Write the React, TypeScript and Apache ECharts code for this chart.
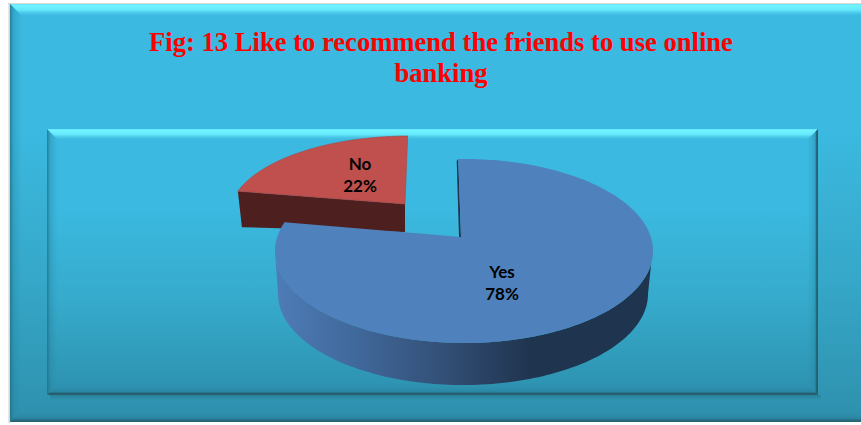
import React, { useEffect, useRef } from "react";
import * as echarts from "echarts";

const categories = ["Yes", "No"];
const shares = [78, 22];
const titleLines = ["Fig: 13 Like to recommend the friends to use online", "banking"];

const W = 861;
const H = 425;

type Ring = { cx: number; cy: number; rx: number; ry: number };

// Projection of each slice: the hub, the upper rim and the lower rim of the disc.
const YES_GEOM = {
  hub: [461, 237],
  top: { cx: 464, cy: 251, rx: 189, ry: 92 } as Ring,
  bottom: { cx: 463, cy: 294, rx: 185, ry: 91 } as Ring,
  label: [502, 282],
};
const NO_GEOM = {
  hub: [405, 204],
  top: { cx: 409, cy: 216, rx: 180, ry: 80 } as Ring,
  label: [360, 174],
};

const START_ANGLE = -1;

const toRad = (d: number) => (d * Math.PI) / 180;

// Casts a ray from the hub at a clockwise pie angle and returns the rim parameter it reaches.
function rimParam(hub: number[], ring: Ring, pieDeg: number) {
  const dx = Math.sin(toRad(pieDeg)) * ring.rx;
  const dy = -Math.cos(toRad(pieDeg)) * ring.ry;
  const ox = (hub[0] - ring.cx) / ring.rx;
  const oy = (hub[1] - ring.cy) / ring.ry;
  const ux = dx / ring.rx;
  const uy = dy / ring.ry;
  const a = ux * ux + uy * uy;
  const b = 2 * (ox * ux + oy * uy);
  const c = ox * ox + oy * oy - 1;
  const t = (-b + Math.sqrt(b * b - 4 * a * c)) / (2 * a);
  return Math.atan2(oy + t * uy, ox + t * ux);
}

function rimPoints(ring: Ring, from: number, to: number, steps = 120) {
  const pts: number[][] = [];
  for (let i = 0; i <= steps; i++) {
    const th = from + ((to - from) * i) / steps;
    pts.push([ring.cx + ring.rx * Math.cos(th), ring.cy + ring.ry * Math.sin(th)]);
  }
  return pts;
}

function grad(x0: number, y0: number, x1: number, y1: number, stops: [number, string][]) {
  return new echarts.graphic.LinearGradient(
    x0, y0, x1, y1,
    stops.map(([offset, color]) => ({ offset, color }))
  );
}

// One raised panel: body, then four mitred bevel bands, the shadow edges on top.
function panel(x0: number, y0: number, x1: number, y1: number, b: number, bodyTop: string, bodyMid: string, bodyBottom: string, edgeDark: string) {
  const poly = (points: number[][], fill: any) => ({
    type: "polygon",
    silent: true,
    shape: { points },
    style: { fill },
  });
  return [
    {
      type: "rect",
      silent: true,
      shape: { x: x0, y: y0, width: x1 - x0, height: y1 - y0 },
      style: { fill: grad(0, 0, 0, 1, [[0, bodyTop], [0.3, bodyTop], [0.65, bodyMid], [1, bodyBottom]]) },
    },
    poly(
      [[x0, y0], [x1, y0], [x1 - b, y0 + b], [x0 + b, y0 + b]],
      grad(0, 0, 0, 1, [[0, "rgba(100,230,250,1)"], [0.15, "rgba(112,244,255,1)"], [0.5, "rgba(108,240,255,0.85)"], [1, "rgba(80,200,235,0)"]])
    ),
    poly(
      [[x0, y0], [x0 + b, y0 + b], [x0 + b, y1 - b], [x0, y1]],
      grad(0, 0, 1, 0, [[0, "rgba(30,105,130,0.75)"], [0.3, "rgba(30,125,150,0.3)"], [1, "rgba(40,140,170,0)"]])
    ),
    poly(
      [[x1, y0], [x1 - b, y0 + b], [x1 - b, y1 - b], [x1, y1]],
      grad(0, 0, 1, 0, [[0, "rgba(40,140,170,0)"], [0.72, "rgba(30,120,145,0.3)"], [0.88, edgeDark], [1, edgeDark]])
    ),
    poly(
      [[x0, y1], [x0 + b, y1 - b], [x1 - b, y1 - b], [x1, y1]],
      grad(0, 0, 0, 1, [[0, "rgba(40,140,170,0)"], [0.68, "rgba(35,115,140,0.35)"], [0.86, edgeDark], [1, edgeDark]])
    ),
  ];
}

function renderSlice(params: any, api: any) {
  const i = params.dataIndex;
  const total = shares.reduce((s, v) => s + v, 0);
  const before = shares.slice(0, i).reduce((s, v) => s + v, 0);
  const a0 = START_ANGLE + (before / total) * 360;
  const a1 = a0 + (api.value(0) / total) * 360;
  const text = `${categories[i]}\n${Math.round((api.value(0) / total) * 100)}%`;
  const label = (xy: number[]) => ({
    type: "text",
    z2: 50,
    style: {
      x: xy[0], y: xy[1], text,
      fill: "#000", align: "center", verticalAlign: "middle",
      font: "bold 17px Lato, 'Open Sans', sans-serif",
      lineHeight: 22,
    },
  });

  if (i === 0) {
    const g = YES_GEOM;
    const th0 = rimParam(g.hub, g.top, a0);
    let th1 = rimParam(g.hub, g.top, a1);
    const from = th0;
    while (th1 < from) th1 += Math.PI * 2;
    const face = [g.hub, ...rimPoints(g.top, from, th1, 200)];
    const wallTop = rimPoints(g.top, toRad(8), toRad(176));
    const wallBottom = rimPoints(g.bottom, toRad(180), toRad(0));
    const rimStart = face[1];
    return {
      type: "group",
      children: [
        {
          type: "polygon", z2: 20,
          shape: { points: [...wallTop, ...wallBottom] },
          style: {
            fill: grad(0, 0, 1, 0, [
              [0, "#4e7cb6"], [0.2, "#416a9d"], [0.45, "#334f76"], [0.68, "#1f344e"], [1, "#1f344e"],
            ]),
          },
        },
        {
          type: "polygon", z2: 21,
          shape: { points: [[rimStart[0] - 1.5, rimStart[1] + 2], rimStart, g.hub, [g.hub[0] - 2, g.hub[1]]] },
          style: { fill: "#1f344e" },
        },
        {
          type: "polygon", z2: 22,
          shape: { points: face },
          style: { fill: "#4f81bd" },
        },
        label(g.label),
      ],
    };
  }

  const g = NO_GEOM;
  const th0 = rimParam(g.hub, g.top, a0);
  let th1 = rimParam(g.hub, g.top, a1 + 2);
  while (th1 < th0) th1 += Math.PI * 2;
  const arc = rimPoints(g.top, th0, th1);
  const left = arc[0];
  return {
    type: "group",
    children: [
      {
        type: "polygon", z2: 10,
        shape: { points: [left, [left[0] + 4, left[1] + 36], [g.hub[0], g.hub[1] + 28], g.hub] },
        style: { fill: "#4d1f1e" },
      },
      {
        type: "polygon", z2: 11,
        shape: { points: [g.hub, ...arc] },
        style: { fill: "#c0504d", stroke: "#a84744", lineWidth: 0.6 },
      },
      label(g.label),
    ],
  };
}

export default function App() {
  const ref = useRef<HTMLDivElement>(null);
  useEffect(() => {
    const chart = echarts.init(ref.current!, undefined, { renderer: "svg" });
    chart.setOption({
      animation: false,
      backgroundColor: "#ffffff",
      title: {
        text: titleLines.join("\n"),
        left: 436,
        top: 21,
        textAlign: "center",
        textStyle: {
          color: "#ff0000",
          fontFamily: "'Liberation Serif', serif",
          fontWeight: "bold",
          fontSize: 26.6,
          lineHeight: 31,
        },
      },
      graphic: [
        {
          type: "group",
          silent: true,
          z: -1,
          children: [
            {
              type: "rect",
              shape: { x: 8, y: 3, width: 2, height: 420 },
              style: { fill: grad(0, 0, 1, 0, [[0, "#f0f0f0"], [1, "#cfcfcf"]]) },
            },
            {
              type: "rect",
              shape: { x: 8, y: 3, width: 853, height: 1 },
              style: { fill: "#d8d8d8" },
            },
            ...panel(10, 4, 873, 422, 12, "#3bb9e0", "#36a8c9", "#2e90ad", "rgba(40,100,118,0.95)"),
            {
              type: "rect",
              shape: { x: 50, y: 395, width: 771, height: 5 },
              style: { fill: grad(0, 0, 0, 1, [[0, "rgba(30,90,105,0.35)"], [1, "rgba(30,90,105,0)"]]) },
            },
            ...panel(47, 129, 818, 395, 11, "#3bb9e0", "#36aacb", "#2d91af", "rgba(38,95,110,1)"),
          ],
        },
      ],
      series: [
        {
          type: "custom",
          coordinateSystem: "none",
          renderItem: renderSlice,
          data: shares.map((v) => [v]),
          silent: true,
        },
      ],
    });
    return () => chart.dispose();
  }, []);
  return (
    <div
      ref={ref}
      style={{ position: "absolute", left: 0, top: 0, width: W, height: H }}
    />
  );
}
